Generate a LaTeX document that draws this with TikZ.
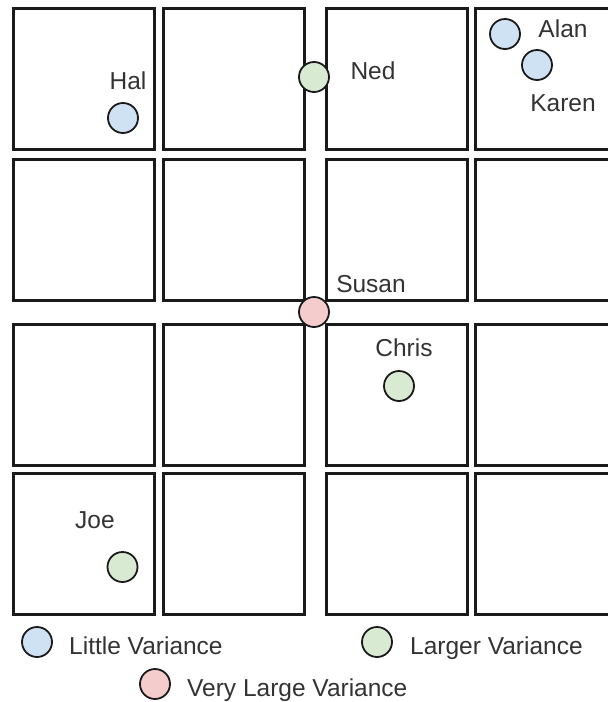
\documentclass[tikz,border=0pt]{standalone}
\usepackage{fontspec}
\setmainfont{Liberation Sans}
\definecolor{boxline}{HTML}{1A1A1A}
\definecolor{txt}{HTML}{333333}
\definecolor{lblue}{HTML}{CFE2F3}
\definecolor{lgreen}{HTML}{D9EAD3}
\definecolor{lred}{HTML}{F4CCCC}
\tikzset{
  cell/.style={draw=boxline, line width=2.6pt, fill=white, rectangle, anchor=north west, inner sep=0pt, minimum width=140.6pt, minimum height=141pt},
  dot/.style={circle, draw=boxline, line width=1.8pt, minimum size=30pt, inner sep=0pt},
  bluedot/.style={dot, fill=lblue},
  greendot/.style={dot, fill=lgreen},
  reddot/.style={dot, fill=lred},
  lbl/.style={text=txt, font=\fontsize{24.5}{24.5}\selectfont, inner sep=0pt, text height=17.5pt, text depth=0pt},
}
\begin{document}
\begin{tikzpicture}[x=1pt, y=-1pt]
\useasboundingbox (0,0) rectangle (608,702);
\clip (0,0) rectangle (608,702);
% grid of cells
\foreach \r/\ry in {1/7.3, 2/158.3, 3/323.3, 4/472.3} {
  \foreach \c/\cx in {1/12.3, 2/162.3, 3/325.3, 4/474.3} {
    \node[cell] (cell\r\c) at (\cx,\ry) {};
  }
}
% people
\node[lbl] (halt) at (128,81) {Hal};
\node[bluedot] (hal) at (123,118) {};
\node[lbl] (nedt) at (373,71) {Ned};
\node[greendot] (ned) at (314,77) {};
\node[lbl] (alant) at (563,29) {Alan};
\node[bluedot] (alan) at (505,34) {};
\node[lbl] (karent) at (563,103) {Karen};
\node[bluedot] (karen) at (537,65) {};
\node[lbl] (susant) at (371,284) {Susan};
\node[reddot] (susan) at (314,312) {};
\node[lbl] (christ) at (404,348) {Chris};
\node[greendot] (chris) at (399,386) {};
\node[lbl] (joet) at (95,520) {Joe};
\node[greendot] (joe) at (122.5,567) {};
% legend
\node[bluedot] (legb) at (37,642) {};
\node[lbl, anchor=west] (legbt) at (69,646) {Little Variance};
\node[greendot] (legg) at (377,642) {};
\node[lbl, anchor=west] (leggt) at (410,646) {Larger Variance};
\node[reddot] (legr) at (155,684) {};
\node[lbl, anchor=west] (legrt) at (187,688) {Very Large Variance};
\end{tikzpicture}
\end{document}
